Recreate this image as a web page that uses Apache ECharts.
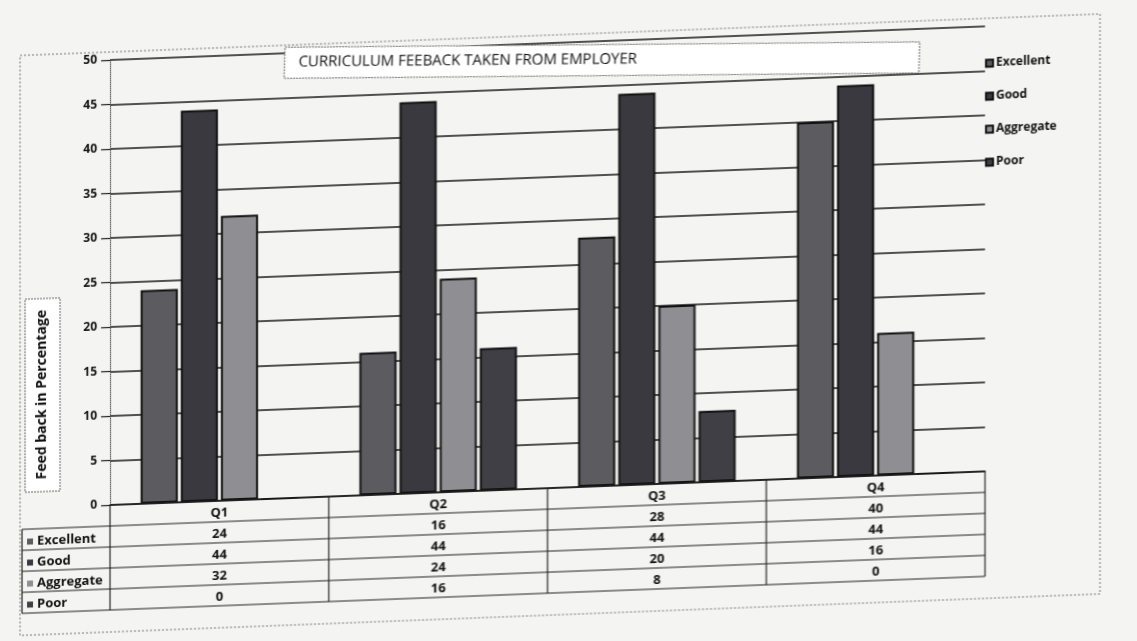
<!DOCTYPE html>
<html>
<head>
<meta charset="utf-8">
<script src="https://cdn.jsdelivr.net/npm/echarts@6/dist/echarts.min.js"></script>
<style>
html,body{margin:0;padding:0;background:#f4f4f2;}
#chart{width:1137px;height:641px;transform:skewY(-2.2deg);transform-origin:110px 505px;}
</style>
</head>
<body>
<div id="chart"></div>
<script>
const categories = ['Q1', 'Q2', 'Q3', 'Q4'];
const seriesNames = ['Excellent', 'Good', 'Aggregate', 'Poor'];
const excellent = [24, 16, 28, 40];
const good = [44, 44, 44, 44];
const aggregate = [32, 24, 20, 16];
const poor = [0, 16, 8, 0];
const yTicks = [0, 5, 10, 15, 20, 25, 30, 35, 40, 45, 50];
const titleText = 'CURRICULUM FEEBACK TAKEN FROM EMPLOYER';
const yName = 'Feed back in Percentage';

const values = [excellent, good, aggregate, poor];
const colors = ['#5c5b60', '#3a393f', '#8f8e92', '#403f45'];

const FONT = 'Open Sans';
const gridL = 110, gridR = 152, gridT = 60, gridB = 136;
const W = 1137, H = 641;
const x0 = gridL, pw = W - gridL - gridR, cw = pw / categories.length;
const yAxisBottom = H - gridB;
const rowH = 21;

const chart = echarts.init(document.getElementById('chart'));

const graphic = [];
// outer chart border
graphic.push({type:'rect', shape:{x:20, y:52, width:1080, height:580}, style:{fill:null, stroke:'#777', lineWidth:1, lineDash:[2,2]}, z:0});
// title box (counter-rotated to reduce the skew, as in the photo)
graphic.push({type:'group', x:285, y:54, rotation:-0.03, children:[
  {type:'rect', shape:{x:0, y:0, width:635, height:31}, style:{fill:'#fff', stroke:'#666', lineWidth:1, lineDash:[2,1]}, z:10},
  {type:'text', x:14, y:15, style:{text:titleText, font:'15px "' + FONT + '"', fill:'#111', verticalAlign:'middle'}, z:11}
]});
// y axis name box
graphic.push({type:'rect', shape:{x:25, y:296, width:35, height:193}, style:{fill:'#fff', stroke:'#666', lineWidth:1, lineDash:[2,1]}, z:10});
graphic.push({type:'text', x:42, y:392, rotation:Math.PI/2, style:{text:yName, font:'bold 14px "' + FONT + '"', fill:'#111', align:'center', verticalAlign:'middle'}, z:11});

// data table
const line = (x1,y1,x2,y2) => ({type:'line', shape:{x1,y1,x2,y2}, style:{stroke:'#222', lineWidth:1.2}, z:5});
const tableTop = yAxisBottom;
const tableBottom = tableTop + rowH * (seriesNames.length + 1);
graphic.push(line(x0, tableTop, x0 + pw, tableTop));
for (let r = 1; r <= seriesNames.length + 1; r++) {
  graphic.push(line(22, tableTop + r*rowH, x0 + pw, tableTop + r*rowH));
}
graphic.push(line(22, tableTop + rowH, 22, tableBottom));
for (let i = 0; i <= categories.length; i++) {
  graphic.push(line(x0 + i*cw, tableTop, x0 + i*cw, tableBottom));
}
const tFont = 'bold 13px "' + FONT + '"';
categories.forEach((c, i) => {
  graphic.push({type:'text', x:x0 + (i+0.5)*cw, y:tableTop + rowH/2 + 2, style:{text:c, font:tFont, fill:'#111', align:'center', verticalAlign:'middle'}, z:6});
  values.forEach((arr, r) => {
    graphic.push({type:'text', x:x0 + (i+0.5)*cw, y:tableTop + (r+1.5)*rowH + 2, style:{text:String(arr[i]), font:tFont, fill:'#111', align:'center', verticalAlign:'middle'}, z:6});
  });
});
seriesNames.forEach((n, r) => {
  const cy = tableTop + (r+1.5)*rowH + 2;
  graphic.push({type:'rect', shape:{x:27, y:cy-3, width:6, height:6}, style:{fill:colors[r]}, z:6});
  graphic.push({type:'text', x:37, y:cy, style:{text:n, font:tFont, fill:'#111', verticalAlign:'middle'}, z:6});
});

chart.setOption({
  backgroundColor: 'transparent',
  animation: false,
  textStyle: {fontFamily: FONT},
  grid: {left: gridL, right: gridR, top: gridT, bottom: gridB},
  legend: {
    orient: 'vertical', left: 980, top: 86, itemGap: 21,
    icon: 'rect', itemWidth: 7, itemHeight: 7,
    data: seriesNames,
    textStyle: {fontFamily: FONT, fontWeight: 'bold', fontSize: 12, color: '#111', padding: [0,0,0,-2]}
  },
  xAxis: {
    type: 'category', data: categories,
    axisLine: {show: true, lineStyle: {color: '#222', width: 1.5}},
    axisTick: {show: false}, axisLabel: {show: false}
  },
  yAxis: {
    type: 'value', min: 0, max: 50, interval: 5,
    axisLine: {show: true, lineStyle: {color: '#555', width: 1, type: 'dotted'}},
    axisTick: {show: true, length: 9, lineStyle: {color: '#222', width: 1.2}},
    axisLabel: {fontFamily: FONT, fontWeight: 'bold', fontSize: 12, color: '#111', margin: 13,
      formatter: v => yTicks.includes(v) ? String(v) : ''},
    splitLine: {show: true, lineStyle: {color: '#1a1a1a', width: 1.5}}
  },
  series: seriesNames.map((n, r) => ({
    name: n, type: 'bar', data: values[r],
    barGap: '8%', barCategoryGap: '28%',
    itemStyle: {color: colors[r], borderColor: '#111', borderWidth: 2},
    emphasis: {disabled: true}
  })),
  graphic: graphic
});
</script>
</body>
</html>
